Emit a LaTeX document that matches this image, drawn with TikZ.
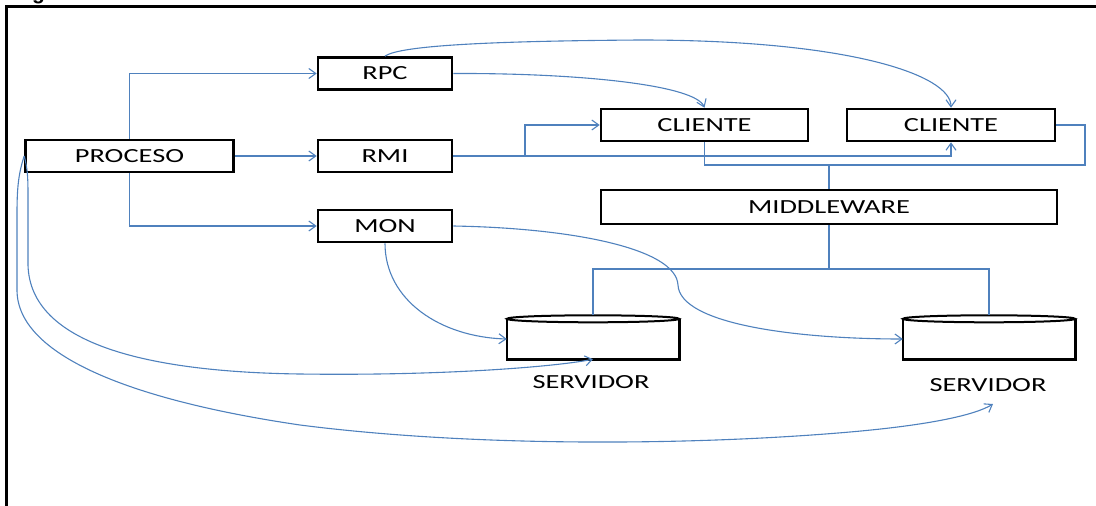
\documentclass[tikz,border=0pt]{standalone}
\usepackage{fontspec}
\setmainfont{Carlito}
\newfontfamily\captionfont{Liberation Sans}
\usetikzlibrary{arrows.meta}
\definecolor{linkblue}{RGB}{79,129,189}
\newcommand\wide[1]{\scalebox{1.42}[1]{#1}}

\begin{document}
\begin{tikzpicture}[x=1pt,y=-1pt,
  box/.style={draw=black, line width=2.6pt, line join=miter, minimum height=32pt,
    inner sep=0pt, font=\fontsize{20}{24}\selectfont},
  lbl/.style={inner sep=0pt, font=\fontsize{20}{24}\selectfont},
  drum/.style={minimum width=172pt, minimum height=40pt, inner sep=0pt},
  link/.style={draw=linkblue, line width=1.1pt},
  tip/.style={-{Straight Barb[length=7pt,width=10pt,line width=1.1pt]}},
  frame/.style={draw=black, line width=3pt}
]
\useasboundingbox (0,0) rectangle (1096,506);

% outer frame and caption remnant
\draw[frame] (6.5,506) -- (6.5,6) -- (1096,6);
\node[font=\captionfont\bfseries\fontsize{21}{24}\selectfont, anchor=base, inner sep=0pt]
  (figg) at (38.5,-0.5) {g};

% boxes
\node[box, minimum width=208pt] (proc) at (129.5,156) {\wide{PROCESO}};
\node[box, minimum width=134pt] (rpc) at (385,73.5) {\wide{RPC}};
\node[box, minimum width=134pt] (rmi) at (385,156) {\wide{RMI}};
\node[box, minimum width=134pt] (mon) at (385,226) {\wide{MON}};
\node[box, minimum width=207pt] (cli1) at (704.5,125) {\wide{CLIENTE}};
\node[box, minimum width=208pt] (cli2) at (951,125) {\wide{CLIENTE}};
\node[box, minimum width=456pt, minimum height=34pt] (mw) at (829,207) {\wide{MIDDLEWARE}};

% servers (flat drums)
\node[drum] (srv1) at (593,339) {};
\node[drum] (srv2) at (989,339) {};
\foreach \s in {srv1,srv2}{
  \draw[line width=2.6pt, line join=miter] (\s.north west) -- (\s.south west)
    -- (\s.south east) -- (\s.north east);
  \draw[line width=2pt] (\s.north) ellipse [x radius=86pt, y radius=3.5pt];
}
\coordinate (s1top) at ([yshift=3.5pt]srv1.north);
\coordinate (s2top) at ([yshift=3.5pt]srv2.north);
\node[lbl] (s1lab) at (591,382) {\wide{SERVIDOR}};
\node[lbl] (s2lab) at (988,385) {\wide{SERVIDOR}};

% orthogonal connectors
\draw[link,tip] (proc.north) |- (rpc.west);
\draw[link,tip] (proc.south) |- (mon.west);
\draw[link,tip] (proc.east) -- (rmi.west);
\coordinate (split) at (525,156);
\draw[link,tip] (rmi.east) -| (cli2.south);
\draw[link,tip] (split) |- (cli1.west);
\coordinate (busR) at (1085,165);
\draw[link] (cli1.south) |- (busR) |- (cli2.east);
\draw[link] (mw.north |- busR) -- (mw.north);
\coordinate (busB) at (829,269);
\draw[link] (mw.south) -- (busB);
\draw[link] (s1top) -- (s1top |- busB) -- (s2top |- busB) -- (s2top);

% curved connectors
\draw[link,tip] (rpc.east) .. controls (580,73) and (695,85) .. (cli1.north);
\draw[link,tip] (rpc.north) .. controls (400,45) and (500,41) .. (640,40)
  .. controls (850,40) and (951,75) .. (cli2.north);
\draw[link,tip] (mon.east) .. controls (570,228) and (676,248) .. (678,285)
  .. controls (680,325) and (800,339) .. (srv2.west);
\draw[link,tip] (mon.south) .. controls (385,300) and (440,337) .. (srv1.west);
\draw[link,tip] (proc.west) .. controls (28,170) and (28,180) .. (28,200) -- (28,265)
  .. controls (30,345) and (150,372) .. (300,374)
  .. controls (450,376) and (560,366) .. (srv1.south);
\coordinate (farend) at (993,404);
\draw[link,tip] (proc.west) .. controls (18,175) and (17,190) .. (17,215) -- (17,290)
  .. controls (17,355) and (130,400) .. (300,425)
  .. controls (480,448) and (700,445) .. (850,432)
  .. controls (930,425) and (975,415) .. (farend);
\end{tikzpicture}
\end{document}
